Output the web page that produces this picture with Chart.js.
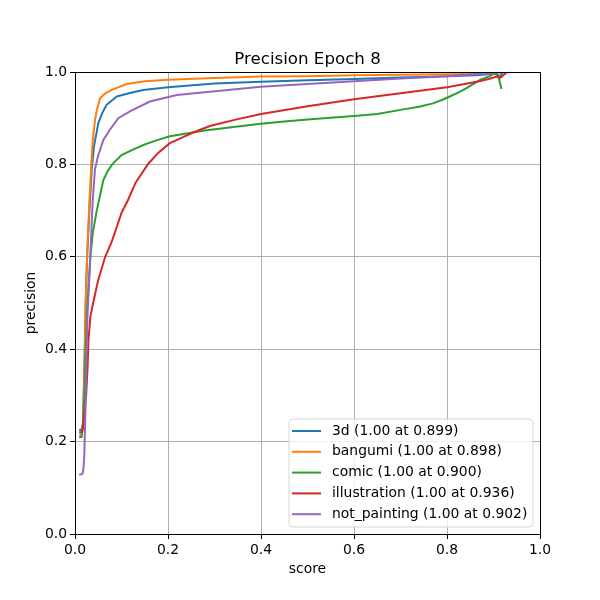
<!DOCTYPE html>
<html>
<head>
<meta charset="utf-8">
<script src="https://cdn.jsdelivr.net/npm/chart.js@4/dist/chart.umd.min.js"></script>
<style>
  html, body { margin: 0; padding: 0; background: #fff; }
  #wrap { width: 600px; height: 600px; }
</style>
</head>
<body>
<div id="wrap"><canvas id="prChart" width="600" height="600"></canvas></div>
<script>
const titleText = 'Precision Epoch 8';
const seriesNames = ['3d', 'bangumi', 'comic', 'illustration', 'not_painting'];
const legendNotes = ['1.00 at 0.899', '1.00 at 0.898', '1.00 at 0.900', '1.00 at 0.936', '1.00 at 0.902'];
const axisTicks = [0, 0.2, 0.4, 0.6, 0.8, 1.0];

// score (x) / precision (y) per class
const x3d = [0.009, 0.014, 0.017, 0.02, 0.023, 0.026, 0.031, 0.036, 0.041, 0.047, 0.05, 0.058, 0.068, 0.09, 0.12, 0.147, 0.2, 0.3, 0.4, 0.5, 0.6, 0.7, 0.8, 0.86, 0.89, 0.905, 0.914, 0.92];
const y3d = [0.225, 0.225, 0.24, 0.35, 0.5, 0.6, 0.7, 0.79, 0.84, 0.872, 0.889, 0.91, 0.929, 0.947, 0.955, 0.961, 0.967, 0.975, 0.979, 0.982, 0.985, 0.988, 0.991, 0.993, 0.995, 0.996, 0.99, 1.0];

const xBangumi = [0.009, 0.014, 0.017, 0.02, 0.023, 0.026, 0.03, 0.035, 0.038, 0.043, 0.047, 0.054, 0.065, 0.08, 0.111, 0.15, 0.2, 0.3, 0.4, 0.5, 0.6, 0.7, 0.8, 0.87, 0.9, 0.92];
const yBangumi = [0.215, 0.215, 0.23, 0.35, 0.5, 0.6, 0.7, 0.8, 0.85, 0.896, 0.918, 0.943, 0.954, 0.962, 0.974, 0.98, 0.983, 0.987, 0.99, 0.991, 0.993, 0.994, 0.995, 0.996, 0.998, 1.0];

const xComic = [0.009, 0.014, 0.017, 0.02, 0.023, 0.026, 0.03, 0.033, 0.038, 0.047, 0.061, 0.07, 0.08, 0.1, 0.12, 0.147, 0.175, 0.204, 0.24, 0.283, 0.35, 0.4, 0.45, 0.5, 0.55, 0.6, 0.65, 0.7, 0.74, 0.77, 0.79, 0.806, 0.825, 0.842, 0.858, 0.871, 0.892, 0.902, 0.907, 0.912, 0.917];
const yComic = [0.21, 0.21, 0.23, 0.3, 0.4, 0.48, 0.55, 0.6, 0.65, 0.701, 0.766, 0.785, 0.8, 0.82, 0.83, 0.842, 0.852, 0.861, 0.867, 0.874, 0.882, 0.888, 0.893, 0.897, 0.901, 0.905, 0.909, 0.918, 0.925, 0.932, 0.94, 0.947, 0.956, 0.965, 0.975, 0.983, 0.991, 0.997, 0.993, 0.985, 0.963];

const xIllust = [0.009, 0.014, 0.017, 0.02, 0.024, 0.027, 0.029, 0.033, 0.039, 0.05, 0.065, 0.078, 0.09, 0.1, 0.114, 0.13, 0.158, 0.18, 0.204, 0.23, 0.254, 0.29, 0.35, 0.4, 0.5, 0.6, 0.7, 0.8, 0.864, 0.89, 0.907, 0.915, 0.92, 0.928, 0.936];
const yIllust = [0.22, 0.22, 0.23, 0.26, 0.3, 0.36, 0.42, 0.47, 0.5, 0.55, 0.6, 0.63, 0.665, 0.695, 0.723, 0.76, 0.802, 0.826, 0.846, 0.858, 0.869, 0.883, 0.898, 0.909, 0.926, 0.941, 0.954, 0.967, 0.979, 0.985, 0.99, 0.988, 0.992, 0.999, 1.0];

const xNotPainting = [0.009, 0.016, 0.018, 0.02, 0.022, 0.024, 0.026, 0.028, 0.032, 0.035, 0.038, 0.043, 0.05, 0.061, 0.075, 0.093, 0.12, 0.161, 0.219, 0.29, 0.4, 0.5, 0.6, 0.7, 0.8, 0.86, 0.9, 0.93];
const yNotPainting = [0.128, 0.13, 0.14, 0.17, 0.25, 0.35, 0.45, 0.5, 0.58, 0.65, 0.72, 0.79, 0.82, 0.853, 0.875, 0.9, 0.916, 0.936, 0.95, 0.957, 0.968, 0.974, 0.98, 0.986, 0.991, 0.995, 0.998, 1.0];

const colors = ['#1f77b4', '#ff7f0e', '#2ca02c', '#d62728', '#9467bd'];
const xs = [x3d, xBangumi, xComic, xIllust, xNotPainting];
const ys = [y3d, yBangumi, yComic, yIllust, yNotPainting];

const FONT = 'DejaVu Sans';

// title centred over the plot area, like matplotlib
const plotTitle = {
    id: 'plotTitle',
    afterDraw(chart) {
        const c = chart.ctx;
        const a = chart.chartArea;
        c.save();
        c.font = '16.67px "' + FONT + '"';
        c.fillStyle = '#000';
        c.textAlign = 'center';
        c.textBaseline = 'alphabetic';
        c.fillText(titleText, (a.left + a.right) / 2, a.top - 8.5);
        c.restore();
    }
};

// matplotlib-like legend inside the lower right corner
const boxLegend = {
    id: 'boxLegend',
    afterDraw(chart) {
        const c = chart.ctx;
        const area = chart.chartArea;
        const w = 244, h = 108;
        const x0 = area.right - 7 - w, y0 = area.bottom - 7 - h;
        c.save();
        c.beginPath();
        c.roundRect(x0, y0, w, h, 4);
        c.fillStyle = 'rgba(255,255,255,0.8)';
        c.fill();
        c.strokeStyle = 'rgba(204,204,204,0.8)';
        c.lineWidth = 1;
        c.stroke();
        c.font = '13.9px "' + FONT + '"';
        c.textBaseline = 'middle';
        chart.data.datasets.forEach((ds, i) => {
            const yy = y0 + 12 + i * 20.8;
            c.beginPath();
            c.moveTo(x0 + 3, yy);
            c.lineTo(x0 + 32, yy);
            c.strokeStyle = ds.borderColor;
            c.lineWidth = 2;
            c.stroke();
            c.fillStyle = '#000';
            c.fillText(ds.label, x0 + 43, yy);
        });
        c.restore();
    }
};

// full black frame (top and right spines too)
const frame = {
    id: 'frame',
    afterDatasetsDraw(chart) {
        const c = chart.ctx;
        const a = chart.chartArea;
        c.save();
        c.strokeStyle = '#000';
        c.lineWidth = 1;
        c.strokeRect(Math.round(a.left) + 0.5, Math.round(a.top) + 0.5, Math.round(a.right - a.left), Math.round(a.bottom - a.top));
        c.restore();
    }
};

const ctx = document.getElementById('prChart').getContext('2d');

const chart = new Chart(ctx, {
    type: 'line',
    data: {
        datasets: seriesNames.map((name, i) => ({
            label: name + ' (' + legendNotes[i] + ')',
            data: xs[i].map((x, k) => ({ x: x, y: ys[i][k] })),
            borderColor: colors[i],
            backgroundColor: colors[i],
            borderWidth: 2,
            pointRadius: 0,
            tension: 0,
            fill: false,
            order: seriesNames.length - i
        }))
    },
    options: {
        responsive: false,
        animation: false,
        devicePixelRatio: 1,
        layout: { padding: { left: 0, right: 60, top: 72, bottom: 0 } },
        plugins: {
            legend: { display: false },
            tooltip: { enabled: false },
            title: { display: false }
        },
        scales: {
            x: {
                type: 'linear',
                min: 0,
                max: 1,
                afterFit(scale) { scale.height = 66; },
                afterBuildTicks(scale) { scale.ticks = axisTicks.map(v => ({ value: v })); },
                grid: { color: '#b0b0b0', lineWidth: 1, tickColor: '#000', tickLength: 5 },
                border: { display: true, color: '#000' },
                ticks: {
                    color: '#000',
                    padding: 3,
                    maxRotation: 0,
                    font: { family: FONT, size: 13.9 },
                    callback: v => v.toFixed(1)
                },
                title: {
                    display: true,
                    text: 'score',
                    color: '#000',
                    font: { family: FONT, size: 13.9 },
                    padding: { top: 2, bottom: 22 }
                }
            },
            y: {
                type: 'linear',
                min: 0,
                max: 1,
                afterFit(scale) { scale.width = 75; },
                afterBuildTicks(scale) { scale.ticks = axisTicks.map(v => ({ value: v })); },
                grid: { color: '#b0b0b0', lineWidth: 1, tickColor: '#000', tickLength: 5 },
                border: { display: true, color: '#000' },
                ticks: {
                    color: '#000',
                    padding: 3,
                    font: { family: FONT, size: 13.9 },
                    callback: v => v.toFixed(1)
                },
                title: {
                    display: true,
                    text: 'precision',
                    color: '#000',
                    font: { family: FONT, size: 13.9 },
                    padding: { top: 23, bottom: 0 }
                }
            }
        }
    },
    plugins: [frame, plotTitle, boxLegend]
});
</script>
</body>
</html>
